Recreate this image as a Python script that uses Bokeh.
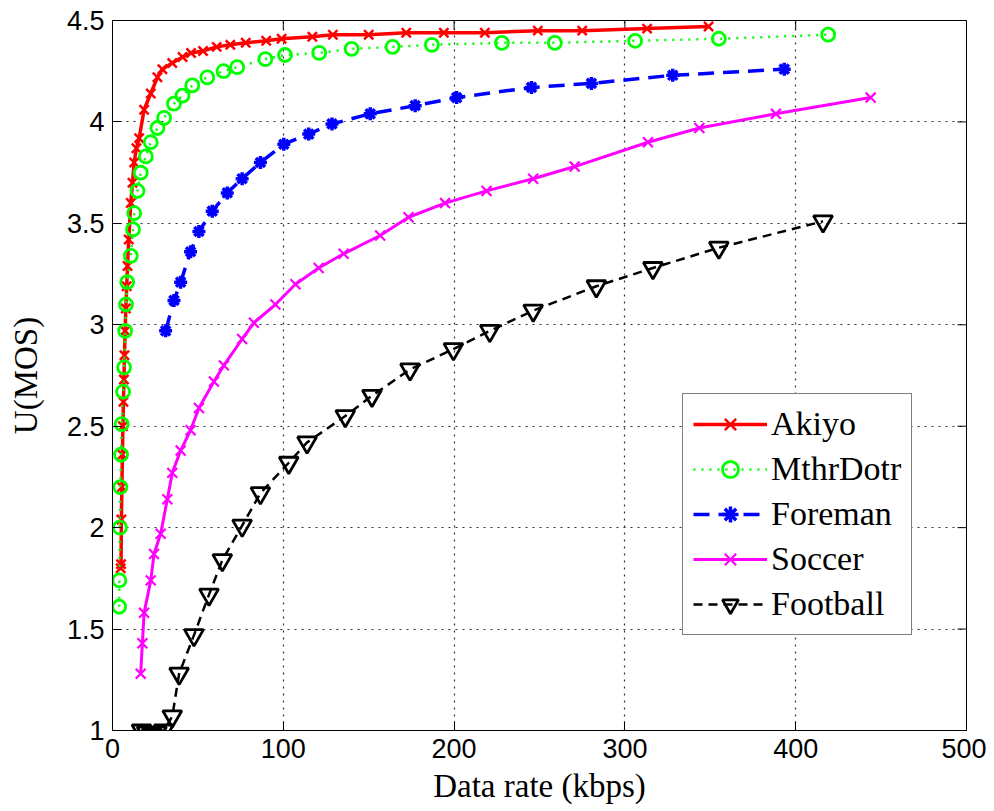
from bokeh.plotting import figure
from bokeh.models import (Range1d, FixedTicker, Legend, LegendItem,
                          CustomJSTickFormatter)
from bokeh.embed import file_html
from bokeh.resources import INLINE

# ---- data ----
akiyo_rate = [4.8, 5.0, 5.2, 5.5, 5.8, 6.1, 6.4, 6.7, 7.0, 7.4, 7.8, 8.3, 8.8, 9.5,
              10.7, 11.7, 12.7, 14.0, 15.6, 18.5, 22.4, 26.3, 29.2, 35, 41, 46,
              53, 61, 69, 78, 90, 99, 117, 129, 150, 172, 194, 218, 249, 275, 313, 349]
akiyo_mos = [1.80, 1.82, 2.04, 2.20, 2.36, 2.50, 2.62, 2.73, 2.85, 2.97, 3.08, 3.19,
             3.29, 3.42, 3.60, 3.70, 3.80, 3.87, 3.92, 4.06, 4.14, 4.22, 4.26, 4.29,
             4.32, 4.34, 4.35, 4.37, 4.38, 4.39, 4.40, 4.41, 4.42, 4.43, 4.43, 4.44,
             4.44, 4.44, 4.45, 4.45, 4.46, 4.47]

mthr_rate = [3.9, 4.0, 4.3, 4.6, 5.0, 5.4, 6.2, 6.8, 7.4, 7.9, 8.6, 10.7, 12.0, 12.7,
             14.6, 16.5, 19.5, 22.4, 26.3, 30.2, 36, 41, 46.7, 55.5, 65, 73, 89.5,
             101, 121, 140, 164, 187, 228, 259, 306, 355, 419]
mthr_mos = [1.61, 1.74, 2.00, 2.20, 2.36, 2.51, 2.67, 2.79, 2.97, 3.10, 3.21, 3.34,
            3.47, 3.55, 3.66, 3.75, 3.83, 3.90, 3.97, 4.02, 4.09, 4.13, 4.18, 4.22,
            4.25, 4.27, 4.31, 4.33, 4.34, 4.36, 4.37, 4.38, 4.39, 4.39, 4.40, 4.41, 4.43]

foreman_rate = [31.1, 36, 39.9, 45.7, 50.6, 58.4, 67.2, 75.9, 86.6, 100.3, 114.9,
                128.5, 150.9, 177.2, 201.5, 245.3, 280.4, 328, 393.3]
foreman_mos = [2.97, 3.12, 3.21, 3.36, 3.46, 3.56, 3.65, 3.72, 3.80, 3.89, 3.94,
               3.99, 4.04, 4.08, 4.12, 4.17, 4.19, 4.23, 4.26]

soccer_rate = [16.5, 17.5, 18.5, 22.4, 24.3, 28.2, 32.1, 35, 39.9, 45.7, 50.6, 59.4,
               65.2, 75.9, 82.8, 95.4, 107.1, 120.7, 135.3, 156.7, 173.3, 194.7, 219,
               246.3, 270.6, 313.5, 343.6, 388.4, 443.9]
soccer_mos = [1.28, 1.43, 1.58, 1.74, 1.87, 1.97, 2.14, 2.27, 2.38, 2.48, 2.59, 2.72,
              2.80, 2.93, 3.01, 3.10, 3.20, 3.28, 3.35, 3.44, 3.53, 3.60, 3.66, 3.72,
              3.78, 3.90, 3.97, 4.04, 4.12]

football_rate = [17, 20, 23, 26, 30, 35, 39, 47.7, 56.5, 64.3, 75.9, 86.6, 103.2,
                 113.9, 136.3, 151.9, 174.2, 199.6, 220.9, 246.3, 283.3, 316.4, 355, 416]
football_mos = [1.0, 0.99, 0.98, 0.99, 1.0, 1.07, 1.28, 1.47, 1.67, 1.84, 2.01, 2.17,
                2.32, 2.42, 2.55, 2.65, 2.78, 2.88, 2.97, 3.07, 3.19, 3.28, 3.38, 3.51]

x_ticks = [0, 100, 200, 300, 400, 500]
y_ticks = [1, 1.5, 2, 2.5, 3, 3.5, 4, 4.5]

SANS = "Liberation Sans"
SERIF = "Liberation Serif"

X0, X1 = 0, 500
Y0, Y1 = 1, 4.5
FRAME_W, FRAME_H = 856, 709
TICK_PX = 9

p = figure(width=986, height=806, x_range=Range1d(X0, X1), y_range=Range1d(Y0, Y1),
           output_backend="svg", toolbar_location=None,
           min_border_left=112, min_border_top=20, min_border_right=20,
           min_border_bottom=60)
p.background_fill_color = "white"
p.border_fill_color = "white"
p.outline_line_color = "black"
p.outline_line_width = 1

fmt = CustomJSTickFormatter(code="return tick.toString();")
for ax, ticks in ((p.xaxis[0], x_ticks), (p.yaxis[0], y_ticks)):
    ax.ticker = FixedTicker(ticks=ticks)
    ax.formatter = fmt
    ax.major_tick_in = TICK_PX
    ax.major_tick_out = 0
    ax.minor_tick_in = 0
    ax.minor_tick_out = 0
    ax.axis_line_color = "black"
    ax.major_tick_line_color = "black"
    ax.major_label_text_font = SANS
    ax.major_label_text_font_size = "27px"
    ax.major_label_text_color = "black"
    ax.axis_label_text_font = SERIF
    ax.axis_label_text_font_style = "normal"
    ax.axis_label_text_font_size = "33px"
    ax.axis_label_text_color = "black"

p.xaxis.axis_label = "Data rate (kbps)"
p.yaxis.axis_label = "U(MOS)"
p.xaxis.major_label_standoff = 8
p.xaxis.axis_label_standoff = 7
p.yaxis.major_label_standoff = 8
p.yaxis.axis_label_standoff = 20

# inward ticks on the top and right borders (MATLAB box style)
dy = TICK_PX * (Y1 - Y0) / FRAME_H
dx = TICK_PX * (X1 - X0) / FRAME_W
p.segment(x0=x_ticks, y0=[Y1] * len(x_ticks), x1=x_ticks, y1=[Y1 - dy] * len(x_ticks),
          line_color="black", line_width=1)
p.segment(x0=[X1] * len(y_ticks), y0=y_ticks, x1=[X1 - dx] * len(y_ticks), y1=y_ticks,
          line_color="black", line_width=1)

for g, ticks in ((p.xgrid[0], x_ticks), (p.ygrid[0], y_ticks)):
    g.ticker = FixedTicker(ticks=ticks)
    g.grid_line_color = "#333333"
    g.grid_line_dash = "2 5"
    g.grid_line_width = 1.2

items = []

l = p.line(akiyo_rate, akiyo_mos, line_color="#ff0000", line_width=3.5)
s = p.scatter(akiyo_rate, akiyo_mos, marker="x", size=13, line_color="#ff0000", line_width=2.5)
items.append(LegendItem(label="Akiyo", renderers=[l, s]))

l = p.line(mthr_rate, mthr_mos, line_color="#00ff00", line_width=2.5, line_dash="2 6")
s = p.scatter(mthr_rate, mthr_mos, marker="circle", size=13, line_color="#00ff00",
              fill_color=None, line_width=2.8)
items.append(LegendItem(label="MthrDotr", renderers=[l, s]))

l = p.line(foreman_rate, foreman_mos, line_color="#0000ff", line_width=3.5, line_dash="16 9")
s = p.scatter(foreman_rate, foreman_mos, marker="asterisk", size=13, line_color="#0000ff",
              line_width=3.5)
items.append(LegendItem(label="Foreman", renderers=[l, s]))

l = p.line(soccer_rate, soccer_mos, line_color="#ff00ff", line_width=3)
s = p.scatter(soccer_rate, soccer_mos, marker="x", size=14, line_color="#ff00ff", line_width=2.2)
items.append(LegendItem(label="Soccer", renderers=[l, s]))

l = p.line(football_rate, football_mos, line_color="black", line_width=2.5, line_dash="9 6")
s = p.scatter(football_rate, football_mos, marker="inverted_triangle", size=19,
              line_color="black", fill_color=None, line_width=2.8)
items.append(LegendItem(label="Football", renderers=[l, s]))

legend = Legend(items=items, location=(570, 95))
legend.label_text_font = SERIF
legend.label_text_font_size = "34px"
legend.label_text_color = "black"
legend.glyph_width = 74
legend.glyph_height = 40
legend.label_height = 40
legend.label_standoff = 4
legend.spacing = 5
legend.padding = 10
legend.margin = 0
legend.border_line_color = "black"
legend.border_line_width = 1
legend.background_fill_color = "white"
legend.background_fill_alpha = 1
p.add_layout(legend, "center")

open("out.html", "w").write(file_html(p, INLINE))
